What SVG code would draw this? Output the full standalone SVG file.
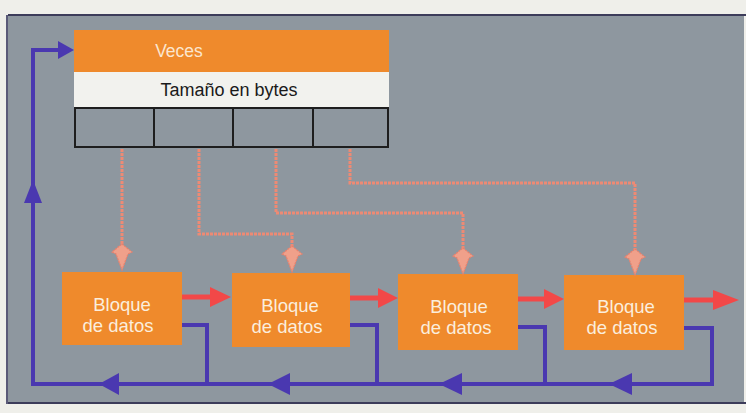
<svg xmlns="http://www.w3.org/2000/svg" width="746" height="413" viewBox="0 0 746 413">
<defs>
<style>
.blk{fill:#ef8a2c;}
.btxt{font-family:"Liberation Sans",Arial,sans-serif;font-size:18.5px;fill:#fbeedd;text-anchor:middle;}
.ptr{fill:none;stroke:#ee8a74;stroke-width:3;stroke-dasharray:3 1;}
.ptrh{fill:#f0a08a;stroke:#e8806c;stroke-width:1.2;stroke-dasharray:2 1;}
.blue{fill:none;stroke:#4a38b0;stroke-width:4;}
.blueh{fill:#4a38b0;}
.red{fill:none;stroke:#f24848;stroke-width:5;}
.redh{fill:#f24848;}
</style>
</defs>
<rect x="0" y="0" width="746" height="413" fill="#efefea"/>
<rect x="8" y="15" width="736" height="388" fill="#8e979f"/>
<line x1="8" y1="15" x2="746" y2="15" stroke="#3c3c5a" stroke-width="2"/>
<line x1="8" y1="403" x2="746" y2="403" stroke="#3c3c5a" stroke-width="2"/>
<line x1="7" y1="15" x2="7" y2="404" stroke="#5a5a78" stroke-width="2"/>

<g id="tabla">
<rect x="74" y="30" width="315" height="42" fill="#ef8a2c"/>
<rect x="74" y="72" width="315" height="35" fill="#f2f2ee"/>
<rect x="75" y="108" width="313" height="39" fill="#8e979f" stroke="#1e1e1e" stroke-width="2"/>
<line x1="154" y1="108" x2="154" y2="147" stroke="#1e1e1e" stroke-width="2"/>
<line x1="233" y1="108" x2="233" y2="147" stroke="#1e1e1e" stroke-width="2"/>
<line x1="313" y1="108" x2="313" y2="147" stroke="#1e1e1e" stroke-width="2"/>
<text x="179" y="57" font-family="Liberation Sans,Arial,sans-serif" font-size="17.5" fill="#fbe6cf" text-anchor="middle">Veces</text>
<text x="229" y="96" font-family="Liberation Sans,Arial,sans-serif" font-size="18" fill="#1a1a1a" text-anchor="middle">Tamaño en bytes</text>
</g>

<g id="bloque1">
<rect class="blk" x="62" y="272" width="120" height="73"/>
<text class="btxt" x="122" y="311">Bloque</text>
<text class="btxt" x="118" y="332">de datos</text>
</g>
<g id="bloque2">
<rect class="blk" x="232" y="273" width="118" height="74"/>
<text class="btxt" x="290" y="312">Bloque</text>
<text class="btxt" x="287" y="333">de datos</text>
</g>
<g id="bloque3">
<rect class="blk" x="398" y="274" width="120" height="76"/>
<text class="btxt" x="459" y="313">Bloque</text>
<text class="btxt" x="456" y="334">de datos</text>
</g>
<g id="bloque4">
<rect class="blk" x="564" y="275" width="120" height="75"/>
<text class="btxt" x="626" y="313">Bloque</text>
<text class="btxt" x="622" y="334">de datos</text>
</g>

<g id="conectores">
<path class="ptr" d="M122,149 V246"/>
<path class="ptr" d="M199,149 V234 H292 V248"/>
<path class="ptr" d="M276,149 V213 H463 V250"/>
<path class="ptr" d="M350,149 V183 H635 V251"/>
<path class="ptrh" d="M122,244 L132,252 L128,254 L122,270 L116,254 L112,252 Z"/>
<path class="ptrh" d="M292,246 L302,254 L298,256 L292,272 L286,256 L282,254 Z"/>
<path class="ptrh" d="M463,248 L473,256 L469,258 L463,274 L457,258 L453,256 Z"/>
<path class="ptrh" d="M635,249 L645,257 L641,259 L635,275 L629,259 L625,257 Z"/>

<line class="red" x1="182" y1="297" x2="212" y2="297"/>
<polygon class="redh" points="210,287 231,297 210,307"/>
<line class="red" x1="350" y1="298" x2="380" y2="298"/>
<polygon class="redh" points="378,288 398,298 378,308"/>
<line class="red" x1="518" y1="299" x2="546" y2="299"/>
<polygon class="redh" points="544,289 564,299 544,309"/>
<line class="red" x1="684" y1="300" x2="715" y2="300"/>
<polygon class="redh" points="713,290 739,300 713,310"/>

<path class="blue" d="M182,325 H207 V384"/>
<path class="blue" d="M350,325 H377 V384"/>
<path class="blue" d="M518,327 H545 V384"/>
<path class="blue" d="M684,328 H712 V384 H33 V50 H62"/>
<polygon class="blueh" points="58,41 74,50 58,59"/>
<polygon class="blueh" points="33,180 42,203 24,203"/>
<polygon class="blueh" points="99,384 119,373 119,395"/>
<polygon class="blueh" points="268,384 290,373 290,395"/>
<polygon class="blueh" points="439,384 462,373 462,395"/>
<polygon class="blueh" points="609,384 632,373 632,395"/>
</g>
</svg>
